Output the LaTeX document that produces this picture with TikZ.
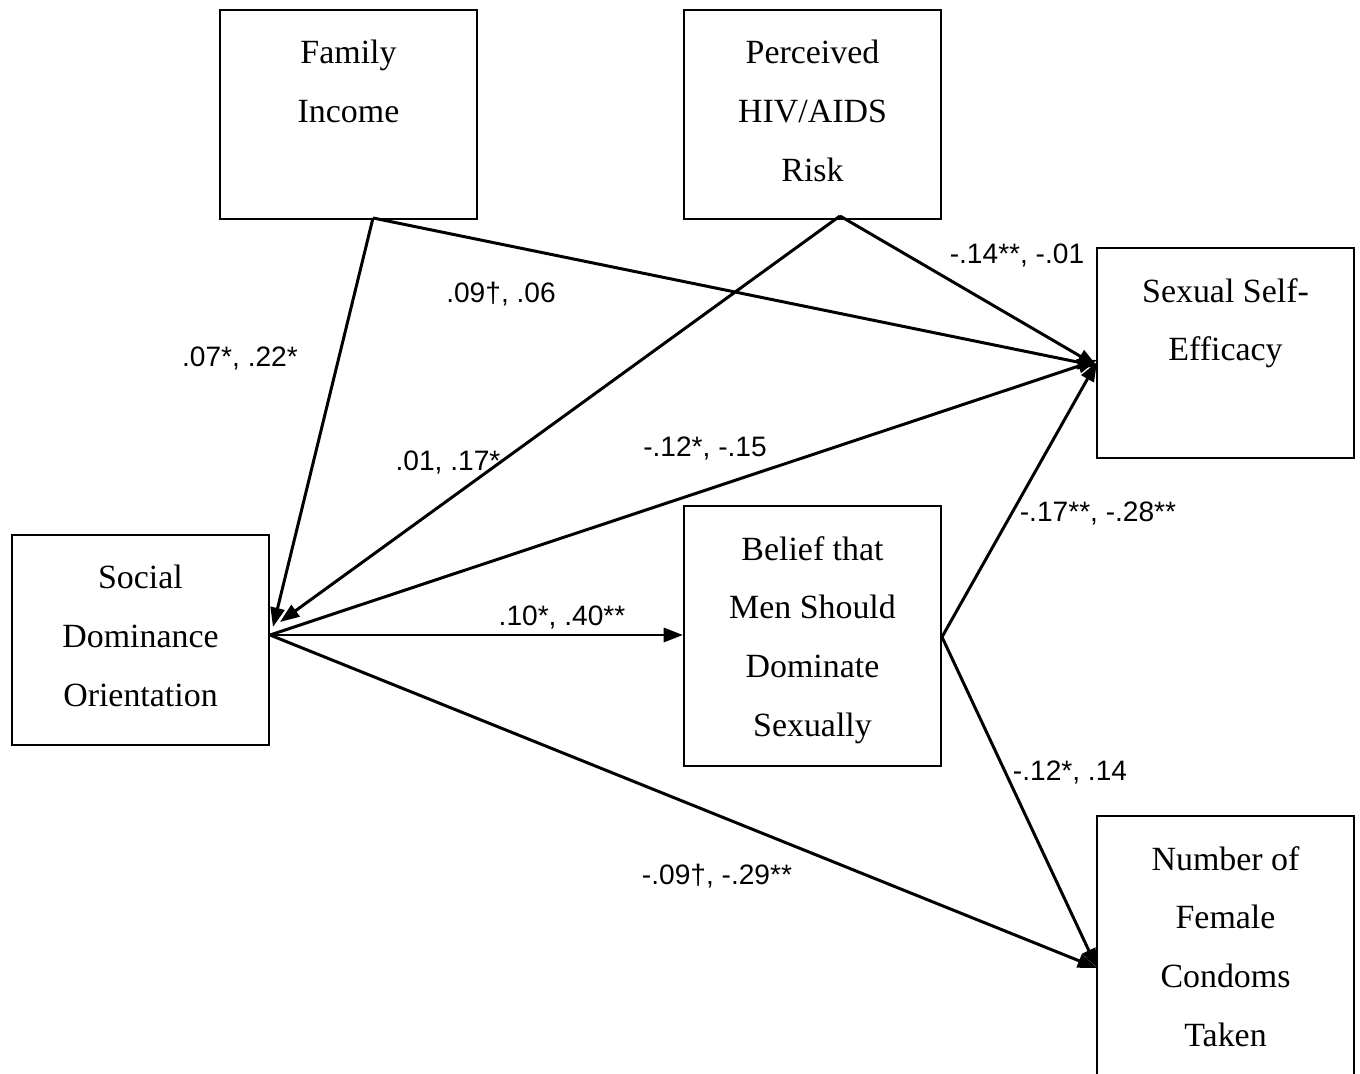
\documentclass[tikz,border=0pt]{standalone}
\usepackage{fontspec}
\setmainfont{Liberation Serif}
\newfontfamily\labfont{Liberation Sans}
\usetikzlibrary{arrows.meta}
\tikzset{
  varbox/.style={draw, line width=1.2pt, minimum width=5.14cm, inner sep=0pt},
  boxtext/.style={anchor=north, align=center, inner sep=0pt, font=\fontsize{19.3}{33.4}\selectfont, yshift=-17.6pt},
  path/.style={line width=1.7pt, -{Triangle[length=11pt,width=8pt]}},
  coef/.style={font=\labfont\fontsize{16}{19}\selectfont, inner sep=0pt}
}
\begin{document}
\begin{tikzpicture}[x=0.02cm, y=-0.02cm]
\useasboundingbox (0,0) rectangle (1360,1074);
\fill[white] (0,0) rectangle (1360,1074);
\clip (0,0) rectangle (1360,1074);
% boxes
\node[varbox, minimum height=4.18cm] (fi)  at (348.5,114.5) {};
\node[varbox, minimum height=4.18cm] (pr)  at (812.5,114.5) {};
\node[varbox, minimum height=4.2cm]  (sse) at (1225.5,353) {};
\node[varbox, minimum height=4.2cm]  (sdo) at (140.5,640) {};
\node[varbox, minimum height=5.2cm]  (bel) at (812.5,636) {};
\node[varbox, minimum height=5.8cm]  (nf)  at (1225.5,961) {};
% box texts
\node[boxtext] (fit)  at (fi.north)  {Family\\Income};
\node[boxtext] (prt)  at (pr.north)  {Perceived\\HIV/AIDS\\Risk};
\node[boxtext] (sset) at (sse.north) {Sexual Self-\\Efficacy};
\node[boxtext] (sdot) at (sdo.north) {Social\\Dominance\\Orientation};
\node[boxtext] (belt) at (bel.north) {Belief that\\Men Should\\Dominate\\Sexually};
\node[boxtext] (nft)  at (nf.north)  {Number of\\Female\\Condoms\\Taken};
% connector end points
\coordinate (fiout)  at (373,218);
\coordinate (prout)  at (840,216);
\coordinate (sdoin1) at (273,627);
\coordinate (sdoin2) at (280,622);
\coordinate (sdoout) at (270,635);
\coordinate (belout) at (942,637);
\coordinate (sseinA) at (1097,366);
\coordinate (sseinB) at (1097,366);
\coordinate (sseinC) at (1097,360);
\coordinate (sseinD) at (1097,362);
\coordinate (nfin)   at (1097,968);
% connectors
\draw[path] (fiout) -- (sdoin1);
\draw[path] (fiout) -- (sseinA);
\draw[path] (prout) -- (sdoin2);
\draw[path] (prout) -- (sseinB);
\draw[path] (sdoout) -- (sseinC);
\draw[path] (sdoout) -- (bel.west |- sdoout);
\draw[path] (sdoout) -- (nfin);
\draw[path] (belout) -- (sseinD);
\draw[path] (belout) -- (nfin);
% coefficients
\node[coef] (c1) at (240,358) {.07*, .22*};
\node[coef] (c2) at (501,294) {.09†, .06};
\node[coef] (c3) at (1017,255) {-.14**, -.01};
\node[coef] (c4) at (448,462) {.01, .17*};
\node[coef] (c5) at (705,448) {-.12*, -.15};
\node[coef] (c6) at (562,617) {.10*, .40**};
\node[coef] (c7) at (1098,513) {-.17**, -.28**};
\node[coef] (c8) at (1070,772) {-.12*, .14};
\node[coef] (c9) at (717,876) {-.09†, -.29**};
\end{tikzpicture}
\end{document}
